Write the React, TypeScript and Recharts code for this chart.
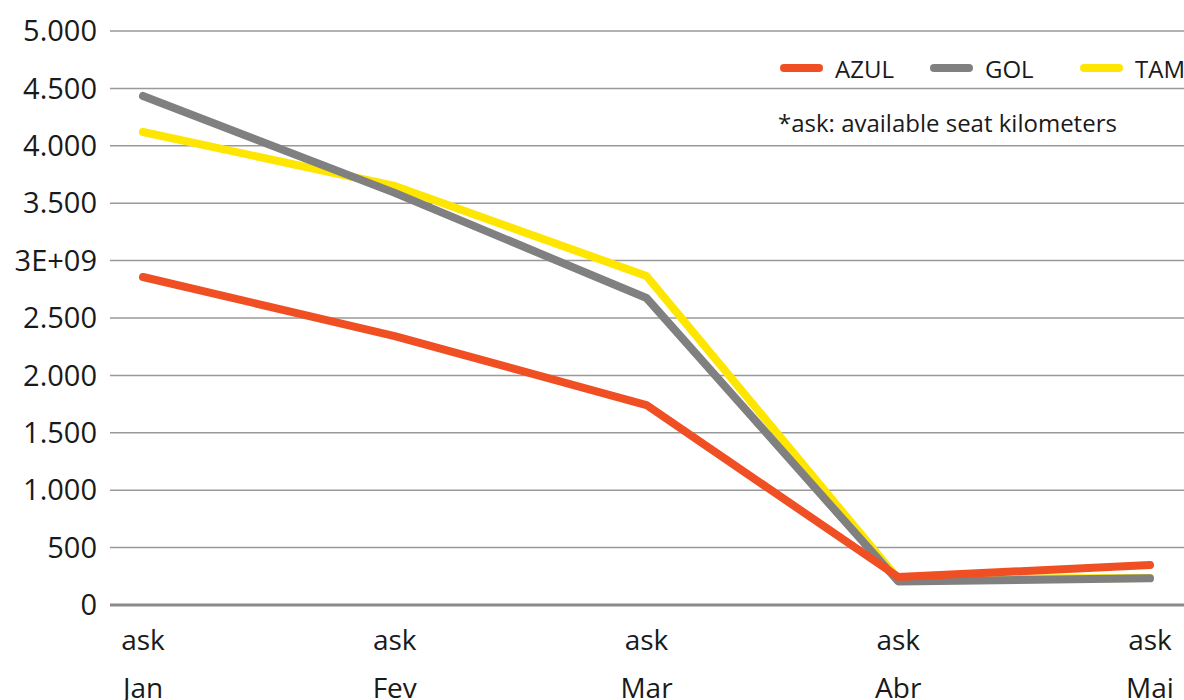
import { LineChart, Line, XAxis, YAxis, CartesianGrid } from "recharts";

const months = ["Jan", "Fev", "Mar", "Abr", "Mai"];
const azul = [2857, 2343, 1742, 244, 348];
const gol = [4434, 3590, 2674, 205, 232];
const tam = [4120, 3650, 2866, 226, 235];

const yTicks = [0, 500, 1000, 1500, 2000, 2500, 3000, 3500, 4000, 4500, 5000];
const yTickLabels = ["0", "500", "1.000", "1.500", "2.000", "2.500", "3E+09", "3.500", "4.000", "4.500", "5.000"];

const series = [
  { key: "AZUL", color: "#F04E23" },
  { key: "GOL", color: "#808080" },
  { key: "TAM", color: "#FFE600" },
];

const data = months.map((m, i) => ({ month: m, AZUL: azul[i], GOL: gol[i], TAM: tam[i] }));

const FONT = "'Open Sans', 'Noto Sans', sans-serif";

function MonthTick({ x, y, payload }: any) {
  return (
    <g transform={`translate(${x},${y})`}>
      <text x={0} y={27} textAnchor="middle" fill="#1a1a1a" fontSize={28} fontFamily={FONT} dy="0.35em">
        ask
      </text>
      <text x={0} y={75} textAnchor="middle" fill="#1a1a1a" fontSize={28} fontFamily={FONT} dy="0.35em">
        {payload.value}
      </text>
    </g>
  );
}

export default function App() {
  return (
    <div style={{ position: "absolute", left: 0, top: 0, width: 1184, height: 700, background: "#fff", fontFamily: FONT, overflow: "hidden" }}>
      <LineChart width={1184} height={700} data={data} margin={{ top: 31, right: 0, bottom: 0, left: 0 }}>
        <CartesianGrid vertical={false} stroke="#999" strokeWidth={1.5} />
        <XAxis
          dataKey="month"
          height={95}
          padding={{ left: 33, right: 34 }}
          axisLine={{ stroke: "#8a8a8a", strokeWidth: 3 }}
          tickLine={false}
          tick={<MonthTick />}
          interval={0}
        />
        <YAxis
          width={110}
          domain={[0, 5000]}
          ticks={yTicks}
          axisLine={false}
          tickLine={false}
          tickMargin={7}
          tick={{ fill: "#1a1a1a", fontSize: 29, fontFamily: FONT }}
          tickFormatter={(v: number) => yTickLabels[yTicks.indexOf(v)] ?? String(v)}
        />
        <Line dataKey="TAM" stroke="#FFE600" strokeWidth={8} dot={false} isAnimationActive={false} strokeLinecap="round" strokeLinejoin="round" />
        <Line dataKey="GOL" stroke="#808080" strokeWidth={8} dot={false} isAnimationActive={false} strokeLinecap="round" strokeLinejoin="round" />
        <Line dataKey="AZUL" stroke="#F04E23" strokeWidth={8} dot={false} isAnimationActive={false} strokeLinecap="round" strokeLinejoin="round" />
      </LineChart>
      {/* legend */}
      <div style={{ position: "absolute", left: 780, top: 53, display: "flex", alignItems: "center", height: 30 }}>
        {series.map((s) => (
          <div key={s.key} style={{ display: "flex", alignItems: "center", width: 150, whiteSpace: "nowrap" }}>
            <div style={{ width: 43, height: 8, borderRadius: 4, background: s.color, marginRight: 12, flexShrink: 0 }} />
            <span style={{ fontSize: 24, color: "#1a1a1a" }}>{s.key}</span>
          </div>
        ))}
      </div>
      <div style={{ position: "absolute", left: 778, top: 106, fontSize: 24, color: "#1a1a1a", whiteSpace: "nowrap" }}>
        *ask: available seat kilometers
      </div>
    </div>
  );
}
